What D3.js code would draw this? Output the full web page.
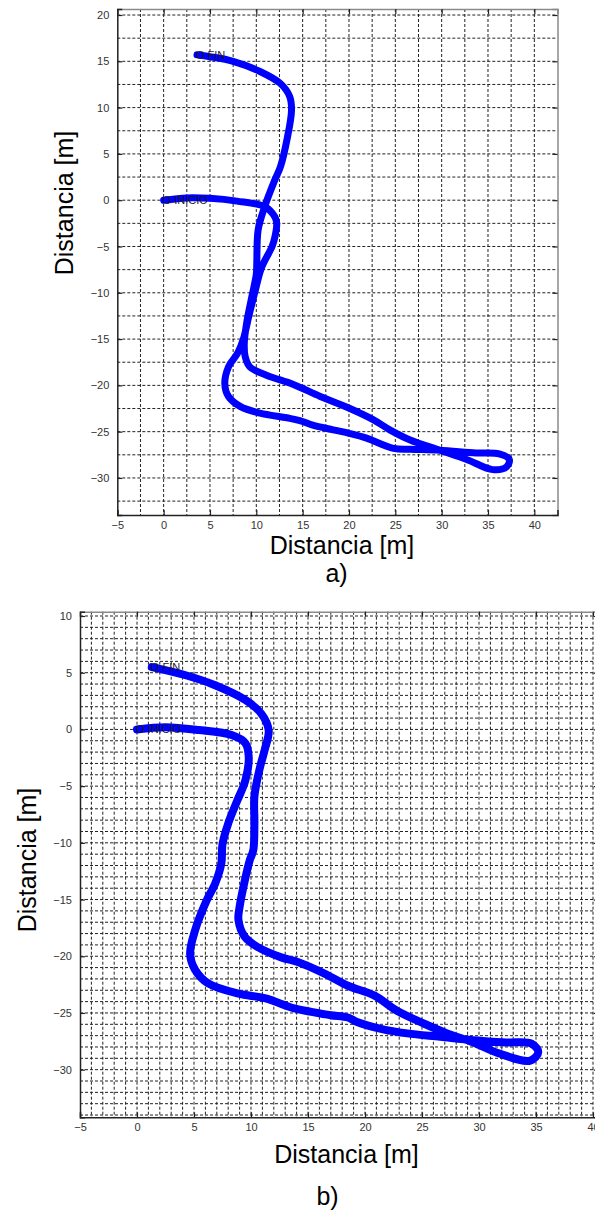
<!DOCTYPE html>
<html>
<head>
<meta charset="utf-8">
<script src="https://cdn.jsdelivr.net/npm/d3@7/dist/d3.min.js"></script>
<style>
  html, body { margin: 0; padding: 0; background: #fff; }
  svg { display: block; }
</style>
</head>
<body>
<svg id="chart" width="595" height="1216"></svg>
<script>
// ---------- Data ----------
// Panel a) trajectory, metres
const pathAX = [0, 2.5, 5.0, 7.9, 10.9, 12.0, 12.2, 12.0, 11.7, 10.6, 9.9, 9.2, 8.6, 8.0, 7.0, 6.6, 7.0, 8.3, 10.4, 13.3, 14.7, 16.1, 18.3, 20.1, 21.9, 24.8, 26.6, 29.8, 33.7, 36.2, 37.3, 37.0, 35.5, 32.7, 29.8, 26.6, 24.4, 22.6, 20.1, 16.9, 14.0, 11.1, 9.3, 8.8, 8.7, 9.0, 9.5, 10.0, 10.05, 10.2, 10.9, 12.0, 12.6, 13.3, 13.8, 13.6, 12.6, 10.4, 7.5, 5.0, 3.6];
const pathAY = [0, 0.25, 0.2, -0.1, -0.7, -1.8, -2.5, -4.0, -5.0, -7.2, -9.7, -12.5, -15.0, -16.5, -18.0, -19.8, -21.2, -22.3, -23.0, -23.5, -23.8, -24.3, -24.8, -25.2, -25.7, -26.8, -26.9, -27.0, -27.3, -27.4, -28.0, -28.8, -29.1, -28.0, -27.0, -25.9, -24.8, -23.7, -22.5, -21.2, -19.9, -18.9, -18.0, -16.9, -15.5, -13.0, -10.5, -8.0, -6.8, -3.2, -0.7, 2.2, 3.6, 6.5, 9.75, 11.2, 12.6, 13.9, 15.0, 15.5, 15.7];

// Panel b) trajectory, metres
const pathBX = [0, 2.5, 5.4, 8.3, 9.5, 9.8, 9.5, 8.7, 8.0, 7.5, 7.4, 6.85, 6.1, 5.1, 4.66, 5.1, 6.25, 8.9, 11.2, 13.8, 15.3, 17.0, 18.5, 19.3, 21.4, 23.7, 26.6, 29.5, 32.4, 34.6, 35.2, 34.5, 31.85, 29.5, 27.2, 25.2, 22.8, 20.8, 18.5, 16.4, 14.1, 12.65, 10.6, 9.46, 8.9, 9.0, 9.46, 9.9, 10.2, 10.3, 10.3, 10.8, 11.2, 11.55, 10.9, 9.5, 6.85, 4.2, 1.3];
const pathBY = [0, 0.2, -0.05, -0.5, -1.2, -2.4, -4.5, -6.5, -8.3, -10.1, -11.8, -13.6, -15.1, -17.7, -19.8, -21.2, -22.4, -23.3, -23.7, -24.6, -24.9, -25.2, -25.4, -25.8, -26.4, -26.8, -27.1, -27.4, -27.6, -27.7, -28.45, -29.2, -28.6, -27.6, -26.8, -25.95, -24.8, -23.45, -22.6, -21.5, -20.5, -20.1, -19.2, -18.3, -16.8, -15.65, -13.3, -11.5, -10.65, -8.3, -5.9, -3.3, -1.8, -0.06, 1.4, 2.6, 3.9, 4.8, 5.5];

// Tick labels
const xTicksA = [-5, 0, 5, 10, 15, 20, 25, 30, 35, 40];
const yTicksA = [-30, -25, -20, -15, -10, -5, 0, 5, 10, 15, 20];
const xTicksB = [-5, 0, 5, 10, 15, 20, 25, 30, 35, 40];
const yTicksB = [-30, -25, -20, -15, -10, -5, 0, 5, 10];

// Annotations
const startLabel = "O INICIO";
const endLabel = "O FIN";
const axisLabel = "Distancia [m]";

// ---------- Drawing ----------
const svg = d3.select("#chart");

function drawPanel(o) {
  const x = d3.scaleLinear().domain(o.xDomain).range([o.left, o.right]);
  const y = d3.scaleLinear().domain(o.yDomain).range([o.bottom, o.top]);
  const g = svg.append("g");

  // grid
  const gx = d3.range(o.xDomain[0] + o.gridStep, o.xDomain[1] - 1e-6, o.gridStep);
  const gy = d3.range(Math.ceil(o.yDomain[0] / o.gridStep) * o.gridStep, o.yDomain[1] + 1e-6, o.gridStep)
    .filter(v => v > o.yDomain[0] + 1e-6);
  g.append("g").selectAll("line").data(gx).join("line")
    .attr("x1", d => x(d)).attr("x2", d => x(d))
    .attr("y1", o.top).attr("y2", o.bottom)
    .attr("stroke", "#222").attr("stroke-width", 1).attr("stroke-dasharray", "3,2");
  g.append("g").selectAll("line").data(gy).join("line")
    .attr("y1", d => y(d)).attr("y2", d => y(d))
    .attr("x1", o.left).attr("x2", o.right)
    .attr("stroke", "#222").attr("stroke-width", 1).attr("stroke-dasharray", "3,2");

  // axes (ticks inward on all sides)
  const bottomAxis = d3.axisBottom(x).tickValues(o.xTicks).tickSize(-5).tickPadding(6).tickFormat(d3.format("d"));
  const leftAxis = d3.axisLeft(y).tickValues(o.yTicks).tickSize(-5).tickPadding(8).tickFormat(d3.format("d"));
  const topAxis = d3.axisTop(x).tickValues(o.xTicks).tickSize(-5).tickFormat("");
  const rightAxis = d3.axisRight(y).tickValues(o.yTicks).tickSize(-5).tickFormat("");

  const styleAxis = (sel, frameColor) => {
    sel.select(".domain").attr("stroke", frameColor).attr("stroke-width", 1.5);
    sel.selectAll(".tick line").attr("stroke", "#222").attr("stroke-width", 1.2);
    sel.selectAll(".tick text").attr("fill", "#333")
      .style("font-family", "'Liberation Sans', Arial, sans-serif").style("font-size", "11px");
  };
  g.append("g").attr("transform", `translate(0,${o.top})`).call(topAxis)
    .call(s => styleAxis(s, "#8a8a8a")).call(s => s.selectAll(".tick text").remove());
  g.append("g").attr("transform", `translate(${o.right},0)`).call(rightAxis)
    .call(s => styleAxis(s, "#8a8a8a")).call(s => s.selectAll(".tick text").remove());
  g.append("g").attr("transform", `translate(0,${o.bottom})`).call(bottomAxis).call(s => styleAxis(s, "#222"));
  g.append("g").attr("transform", `translate(${o.left},0)`).call(leftAxis).call(s => styleAxis(s, "#222"));

  // trajectory
  const pts = o.px.map((v, i) => [v, o.py[i]]);
  const line = d3.line().x(d => x(d[0])).y(d => y(d[1])).curve(d3.curveCatmullRom.alpha(0.5));
  g.append("path").datum(pts)
    .attr("d", line)
    .attr("fill", "none").attr("stroke", "#0000ff")
    .attr("stroke-width", o.lineWidth)
    .attr("stroke-linejoin", "round").attr("stroke-linecap", "round");

  // start / end labels
  const first = pts[0], last = pts[pts.length - 1];
  const lab = [[first, startLabel], [last, endLabel]];
  g.append("g").selectAll("text").data(lab).join("text")
    .attr("x", d => x(d[0][0]) - 1).attr("y", d => y(d[0][1]))
    .attr("dy", "0.35em")
    .attr("fill", "#1a1a2a")
    .style("font-family", "'Liberation Sans', Arial, sans-serif").style("font-size", "11px")
    .text(d => d[1]);

  // axis titles
  const titleFont = "'Liberation Sans', Arial, sans-serif";
  svg.append("text").attr("x", o.xLabelX).attr("y", o.xLabelY)
    .attr("text-anchor", "middle").style("font-family", titleFont).style("font-size", "25px")
    .attr("fill", "#000").text(axisLabel);
  svg.append("text").attr("transform", `translate(${o.yLabelX},${o.yLabelY}) rotate(-90)`)
    .attr("text-anchor", "middle").style("font-family", titleFont).style("font-size", "25px")
    .attr("fill", "#000").text(axisLabel);
  svg.append("text").attr("x", o.capX).attr("y", o.capY)
    .attr("text-anchor", "middle").style("font-family", titleFont).style("font-size", "25px")
    .attr("fill", "#000").text(o.caption);
}

drawPanel({
  xDomain: [-5, 42.5], yDomain: [-34, 20.65],
  left: 117.3, right: 557.5, top: 9, bottom: 515,
  gridStep: 2.5, xTicks: xTicksA, yTicks: yTicksA,
  px: pathAX, py: pathAY, lineWidth: 7,
  xLabelX: 342, xLabelY: 554, yLabelX: 73, yLabelY: 203,
  capX: 336.5, capY: 582, caption: "a)"
});

drawPanel({
  xDomain: [-5, 40.5], yDomain: [-34.2, 10.38],
  left: 80, right: 598.7, top: 611.7, bottom: 1117.3,
  gridStep: 1, xTicks: xTicksB, yTicks: yTicksB,
  px: pathBX, py: pathBY, lineWidth: 8,
  xLabelX: 346.5, xLabelY: 1163, yLabelX: 36, yLabelY: 860,
  capX: 327.5, capY: 1205, caption: "b)"
});
</script>
</body>
</html>
